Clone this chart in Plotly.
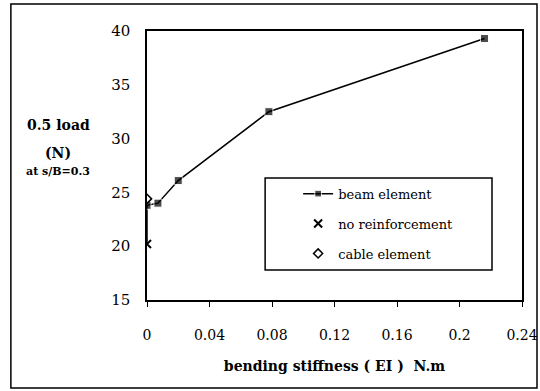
import plotly.graph_objects as go

# Data
beam_x = [0, 0, 0.007, 0.02, 0.078, 0.216]
beam_y = [20.2, 23.8, 24.0, 26.1, 32.5, 39.3]
beam_marker_sizes = [0, 8, 8, 8, 8, 8]
noreinf_x = [0]
noreinf_y = [20.2]
cable_x = [0]
cable_y = [24.4]
x_ticks = [0, 0.04, 0.08, 0.12, 0.16, 0.2, 0.24]
x_tick_labels = ["0", "0.04", "0.08", "0.12", "0.16", "0.2", "0.24"]
y_ticks = [15, 20, 25, 30, 35, 40]

FONT = "DejaVu Serif"

fig = go.Figure()
fig.add_trace(go.Scatter(
    x=beam_x, y=beam_y, mode="lines+markers", name="beam element",
    line=dict(color="black", width=1.5),
    marker=dict(symbol="square", size=beam_marker_sizes, color="black"),
    legendgroup="a",
))
fig.add_trace(go.Scatter(
    x=noreinf_x, y=noreinf_y, mode="markers", name="no reinforcement",
    marker=dict(symbol="x-thin", size=8, color="black", line=dict(width=2, color="black")),
    legendgroup="b",
))
fig.add_trace(go.Scatter(
    x=cable_x, y=cable_y, mode="markers", name="cable element",
    marker=dict(symbol="diamond-open", size=7, color="black", line=dict(width=1.5, color="black")),
    legendgroup="c",
))

fig.update_layout(
    width=540, height=391,
    margin=dict(l=147, r=18, t=31, b=91),
    paper_bgcolor="white", plot_bgcolor="white",
    font=dict(family=FONT, size=14, color="black"),
    showlegend=True,
    legend=dict(
        x=0.403, y=0.451, xanchor="left", yanchor="top",
        borderwidth=0, bgcolor="rgba(0,0,0,0)",
        font=dict(family=FONT, size=13, color="black"),
        tracegroupgap=10, itemwidth=30,
    ),
    xaxis=dict(
        range=[0, 0.24], tickvals=x_ticks, ticktext=x_tick_labels,
        showline=True, linecolor="black", linewidth=1.5, mirror=True,
        ticks="outside", ticklen=5, tickcolor="black",
        showgrid=False, zeroline=False, automargin=False,
        ticklabelstandoff=16,
        tickfont=dict(family=FONT, size=14),
        title=dict(text="<b>bending stiffness ( EI )  N.m</b>", font=dict(family=FONT, size=14), standoff=20),
    ),
    yaxis=dict(
        range=[15, 40], tickvals=y_ticks,
        showline=True, linecolor="black", linewidth=1.5, mirror=True,
        ticks="", showgrid=False, zeroline=False, automargin=False,
        ticklabelstandoff=12,
        tickfont=dict(family=FONT, size=15),
    ),
    annotations=[
        dict(text="<b>0.5 load</b>", xref="paper", yref="paper", x=-0.237, y=0.651,
             xanchor="center", yanchor="middle", showarrow=False, font=dict(family=FONT, size=14)),
        dict(text="<b>(N)</b>", xref="paper", yref="paper", x=-0.237, y=0.546,
             xanchor="center", yanchor="middle", showarrow=False, font=dict(family=FONT, size=14)),
        dict(text="<b>at s/B=0.3</b>", xref="paper", yref="paper", x=-0.237, y=0.476,
             xanchor="center", yanchor="middle", showarrow=False, font=dict(family=FONT, size=11)),
    ],
    shapes=[
        dict(type="rect", xref="paper", yref="paper", x0=-0.363, x1=1.04, y0=-0.327, y1=1.1,
             line=dict(color="black", width=1.5)),
        dict(type="rect", xref="paper", yref="paper", x0=0.315, x1=0.92, y0=0.1115, y1=0.4535,
             line=dict(color="black", width=1.5), fillcolor="white", layer="below"),
    ],
)

fig.write_html("out.html")
